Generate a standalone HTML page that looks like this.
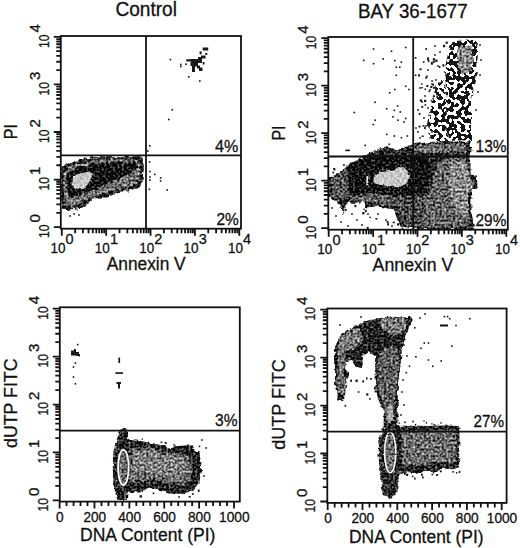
<!DOCTYPE html>
<html><head><meta charset="utf-8"><style>
html,body{margin:0;padding:0;background:#fff;width:520px;height:548px;overflow:hidden}
svg{display:block}
text{stroke:#111;stroke-width:0.3px}
</style></head><body>
<svg width="520" height="548" viewBox="0 0 520 548">
<rect width="520" height="548" fill="#fff"/>
<defs><filter id="tex" filterUnits="userSpaceOnUse" x="0" y="0" width="520" height="548" color-interpolation-filters="sRGB"><feTurbulence type="fractalNoise" baseFrequency="0.22" numOctaves="2" seed="4" result="dn"/><feDisplacementMap in="SourceGraphic" in2="dn" scale="5" xChannelSelector="R" yChannelSelector="G" result="ds"/><feTurbulence type="fractalNoise" baseFrequency="0.45" numOctaves="1" seed="11" result="nz"/><feColorMatrix in="nz" type="matrix" values="1 0 0 0 0  1 0 0 0 0  1 0 0 0 0  0 0 0 0 1" result="g"/><feComposite in="ds" in2="g" operator="arithmetic" k1="0" k2="1" k3="1.5" k4="-0.75" result="c"/><feComposite in="c" in2="ds" operator="in"/></filter><filter id="tex2" filterUnits="userSpaceOnUse" x="0" y="0" width="520" height="548" color-interpolation-filters="sRGB"><feTurbulence type="fractalNoise" baseFrequency="0.22" numOctaves="2" seed="9" result="dn"/><feDisplacementMap in="SourceGraphic" in2="dn" scale="4" xChannelSelector="R" yChannelSelector="G" result="ds"/><feTurbulence type="fractalNoise" baseFrequency="0.45" numOctaves="1" seed="3" result="nz"/><feColorMatrix in="nz" type="matrix" values="1 0 0 0 0  1 0 0 0 0  1 0 0 0 0  0 0 0 0 1" result="g"/><feComposite in="ds" in2="g" operator="arithmetic" k1="0" k2="1" k3="0.6" k4="-0.3" result="c"/><feComposite in="c" in2="ds" operator="in"/></filter><filter id="spk" filterUnits="userSpaceOnUse" x="0" y="0" width="520" height="548" color-interpolation-filters="sRGB"><feTurbulence type="fractalNoise" baseFrequency="0.2" numOctaves="2" seed="8" result="dn"/><feDisplacementMap in="SourceGraphic" in2="dn" scale="5" xChannelSelector="R" yChannelSelector="G" result="ds"/><feTurbulence type="fractalNoise" baseFrequency="0.26" numOctaves="1" seed="21" result="nz"/><feColorMatrix in="nz" type="matrix" values="1 0 0 0 0  1 0 0 0 0  1 0 0 0 0  0 0 0 0 1" result="g"/><feComposite in="ds" in2="g" operator="arithmetic" k1="0" k2="1" k3="2" k4="-1" result="c"/><feComponentTransfer in="c" result="t"><feFuncR type="discrete" tableValues="0.09 1"/><feFuncG type="discrete" tableValues="0.09 1"/><feFuncB type="discrete" tableValues="0.09 1"/></feComponentTransfer><feComposite in="t" in2="ds" operator="in"/></filter><filter id="tex3" filterUnits="userSpaceOnUse" x="0" y="0" width="520" height="548" color-interpolation-filters="sRGB"><feTurbulence type="fractalNoise" baseFrequency="0.3" numOctaves="1" seed="5" result="dn"/><feDisplacementMap in="SourceGraphic" in2="dn" scale="2" xChannelSelector="R" yChannelSelector="G"/></filter></defs>
<g font-family='"Liberation Sans", sans-serif' fill="#111" stroke-width="0.3">
<g filter="url(#spk)">
<path d="M452.0,41.0 L466.0,40.5 L476.0,41.0 L478.0,50.0 L477.0,70.0 L474.0,85.0 L471.0,100.0 L471.0,140.0 L448.0,141.0 L446.0,120.0 L447.0,100.0 L446.0,85.0 L445.0,67.0 L448.0,55.0 Z" fill="#747474"/>
<path d="M432.0,100.0 L446.0,95.0 L447.0,141.0 L430.0,141.0 L428.0,125.0 Z" fill="#848484"/>
<path d="M436.0,84.0 L445.0,80.0 L446.0,96.0 L433.0,100.0 Z" fill="#9a9a9a"/>
</g>
<g filter="url(#tex)">
<path d="M61.0,167.5 L67.5,163.8 L77.5,160.0 L90.0,157.5 L100.0,156.3 L120.0,156.3 L140.0,156.3 L142.5,157.5 L143.8,167.5 L142.5,180.0 L140.0,187.5 L135.0,188.8 L125.0,191.3 L115.0,193.8 L107.5,197.5 L100.0,197.5 L92.5,198.8 L87.5,203.8 L82.5,207.5 L75.0,208.8 L67.5,210.0 L61.0,210.0 Z" fill="#202020" />
<path d="M63.5,172.0 L70.0,167.0 L80.0,163.5 L92.0,160.5 L104.0,159.5 L124.0,159.5 L139.0,160.0 L140.5,168.0 L139.5,180.0 L133.0,185.5 L122.0,188.5 L110.0,191.5 L100.0,194.0 L90.0,196.0 L84.0,202.0 L76.0,205.5 L64.0,206.5 Z" fill="#747474" />
<path d="M66.5,176.0 L70.0,170.5 L80.0,166.5 L95.0,163.5 L115.0,162.5 L135.0,162.5 L138.0,167.0 L130.0,175.0 L115.0,181.0 L100.0,187.0 L90.0,193.0 L80.0,197.0 L70.0,197.0 L66.5,190.0 Z" fill="#0c0c0c" />
<path d="M69.0,199.0 L80.0,195.0 L95.0,189.0 L110.0,183.0 L125.0,176.0 L138.0,169.0 L139.0,177.0 L128.0,183.0 L112.0,189.0 L98.0,194.0 L86.0,200.0 L73.0,204.0 Z" fill="#747474" />
<path d="M328.5,178.0 L335.0,175.0 L342.0,171.0 L347.0,166.0 L351.0,162.0 L357.0,159.5 L362.6,157.3 L366.0,155.0 L369.5,153.0 L380.0,148.7 L388.6,147.0 L397.0,150.4 L405.9,146.0 L418.0,143.5 L430.0,142.0 L445.0,141.0 L460.0,142.0 L470.0,141.0 L471.5,150.0 L470.5,157.0 L470.5,174.6 L477.0,176.0 L477.5,188.4 L471.4,190.0 L471.4,212.7 L473.0,220.0 L474.0,229.0 L418.0,229.0 L400.7,226.5 L397.2,219.6 L393.7,209.2 L386.8,208.3 L378.2,206.6 L366.0,207.5 L364.3,200.6 L354.0,204.0 L347.0,202.3 L343.6,214.4 L340.0,205.7 L335.0,200.6 L328.5,197.0 Z" fill="#202020" />
<path d="M331.0,181.0 L338.0,175.0 L344.0,171.0 L349.0,169.0 L349.0,182.0 L349.0,195.0 L343.0,199.0 L335.0,199.0 L331.0,196.0 Z" fill="#585858" />
<path d="M350.0,196.0 L365.0,194.0 L380.0,194.0 L395.0,196.0 L405.0,200.0 L428.0,196.0 L432.0,180.0 L436.0,165.0 L445.0,158.0 L466.0,158.0 L468.0,180.0 L468.0,205.0 L469.0,227.0 L420.0,227.0 L402.0,222.0 L396.0,207.0 L380.0,204.0 L364.0,201.0 L350.0,200.0 Z" fill="#646464" />
<path d="M385.0,195.0 L405.0,196.0 L418.0,196.0 L425.0,205.0 L422.0,227.0 L404.0,225.0 L397.0,210.0 Z" fill="#4a4a4a" />
<path d="M452.0,162.0 L466.0,160.0 L470.0,176.0 L474.0,186.0 L468.0,192.0 L468.0,215.0 L460.0,218.0 L452.0,200.0 L448.0,180.0 Z" fill="#8c8c8c" />
<path d="M412.0,146.0 L430.0,144.0 L450.0,143.5 L466.0,144.0 L466.0,152.0 L440.0,153.0 L414.0,153.0 Z" fill="#6a6a6a" />
<path d="M348.0,166.0 L354.0,162.0 L362.0,159.0 L372.0,157.0 L390.0,157.0 L405.0,157.0 L420.0,157.0 L430.0,160.0 L430.0,172.0 L426.0,190.0 L418.0,195.0 L400.0,195.0 L380.0,193.0 L360.0,195.0 L350.0,196.0 L348.0,187.0 Z" fill="#0c0c0c" />
<path d="M457.0,47.0 L471.0,46.0 L473.0,58.0 L471.0,71.0 L463.0,74.0 L458.0,68.0 L457.0,56.0 Z" fill="#8a8a8a" />
<path d="M127.0,440.1 L131.7,440.1 L142.3,441.2 L152.9,443.3 L163.5,445.4 L167.7,447.5 L174.0,446.4 L184.6,445.4 L191.0,445.4 L194.1,449.6 L199.4,451.7 L201.5,464.4 L199.4,483.5 L193.1,490.9 L184.6,493.0 L174.0,494.0 L163.5,490.9 L152.9,487.7 L142.3,490.9 L131.7,492.0 L127.0,492.0 Z" fill="#202020" />
<path d="M130.0,448.0 L150.0,447.0 L166.0,452.0 L182.0,453.0 L191.0,459.0 L192.0,477.0 L184.0,485.0 L170.0,484.0 L155.0,480.0 L140.0,481.0 L130.0,483.0 Z" fill="#6a6a6a" />
<path d="M133.0,453.0 L150.0,452.0 L166.0,456.0 L180.0,458.0 L186.0,463.0 L185.0,474.0 L172.0,477.0 L160.0,474.0 L145.0,471.0 L133.0,472.0 Z" fill="#808080" />
<path d="M118.0,436.0 L119.6,432.0 L124.0,428.5 L128.4,432.0 L130.0,445.0 L130.5,470.0 L129.5,483.4 L127.5,492.0 L126.9,500.0 L117.4,500.0 L115.0,492.0 L113.5,483.4 L112.8,470.0 L113.0,454.0 L115.0,445.0 Z" fill="#262626" />
<ellipse cx="123.4" cy="467.5" rx="4" ry="16" fill="#6a6a6a"/>
<path d="M335.0,347.5 L336.9,342.0 L339.6,336.6 L343.3,333.0 L348.8,329.3 L356.0,325.6 L361.6,322.0 L370.7,320.1 L383.5,317.4 L390.8,316.5 L401.8,317.4 L411.0,316.5 L411.8,320.0 L409.0,327.4 L405.4,336.6 L401.8,351.2 L400.0,369.5 L398.0,382.3 L398.0,400.0 L397.5,426.0 L383.7,426.0 L383.7,410.0 L378.0,400.0 L375.5,385.0 L375.5,372.0 L375.0,356.0 L369.0,352.0 L363.0,355.0 L362.0,368.0 L356.0,367.0 L352.0,361.0 L346.0,362.0 L345.0,368.0 L349.0,375.0 L346.0,384.0 L345.3,392.0 L344.0,400.0 L338.0,400.0 L337.0,390.0 L335.0,384.0 L335.0,373.0 L335.0,360.0 Z" fill="#202020" />
<path d="M339.0,338.0 L348.0,331.0 L360.0,327.0 L363.0,340.0 L355.0,348.0 L345.0,352.0 L338.0,352.0 Z" fill="#7a7a7a" />
<path d="M380.0,319.0 L400.0,318.0 L408.0,320.0 L404.0,332.0 L395.0,335.0 L382.0,330.0 Z" fill="#7a7a7a" />
<path d="M380.0,352.0 L392.0,345.0 L399.0,350.0 L398.0,378.0 L395.0,395.0 L394.0,420.0 L386.0,420.0 L384.0,405.0 L378.0,392.0 L377.0,365.0 Z" fill="#5e5e5e" />
<path d="M337.0,352.0 L344.0,350.0 L346.0,362.0 L343.0,372.0 L346.0,384.0 L343.0,395.0 L338.0,394.0 L337.0,375.0 Z" fill="#6e6e6e" />
<path d="M382.7,429.8 L379.5,438.2 L378.5,452.9 L379.5,473.9 L381.6,482.2 L382.7,494.8 L387.9,498.0 L394.2,497.0 L397.3,488.5 L398.4,478.0 L399.4,463.4 L399.4,432.0 L397.0,425.0 L385.0,425.0 Z" fill="#2a2a2a" />
<ellipse cx="390.2" cy="452.4" rx="4.6" ry="19" fill="#6a6a6a"/>
<path d="M397.3,426.0 L410.0,425.6 L430.0,426.0 L445.0,425.6 L459.2,426.0 L459.5,440.0 L459.2,455.0 L459.2,467.0 L452.0,470.0 L444.0,468.0 L435.0,472.0 L425.0,470.0 L418.0,475.0 L410.0,472.0 L399.4,474.0 Z" fill="#202020" />
<path d="M401.0,431.0 L420.0,431.0 L440.0,430.0 L456.0,431.0 L456.0,448.0 L455.0,462.0 L440.0,463.0 L420.0,465.0 L402.0,466.0 Z" fill="#6c6c6c" />
</g>
<g filter="url(#tex2)">
<path d="M72.5,177.5 L77.5,173.8 L90.0,171.3 L92.5,175.0 L90.0,182.5 L85.0,187.5 L77.5,190.0 L72.5,187.5 Z" fill="#c8c8c8"/>
<path d="M373.4,174.7 L379.8,172.0 L394.5,170.2 L401.8,165.6 L407.3,170.2 L410.9,176.6 L405.4,183.9 L398.0,187.5 L385.3,185.7 L378.0,184.8 L373.4,183.0 Z" fill="#c8c8c8"/>
<path d="M366.2,175.0 L368.6,175.0 L368.6,185.5 L366.2,185.5 Z" fill="#f0f0f0"/>
<ellipse cx="389.8" cy="413" rx="3.6" ry="10" fill="#a8a8a8"/>
</g>
<g filter="url(#tex3)">
<ellipse cx="123.4" cy="467.5" rx="5.3" ry="17.5" fill="none" stroke="#f4f4f4" stroke-width="1.9"/>
<ellipse cx="390.2" cy="452.4" rx="5.6" ry="20.2" fill="none" stroke="#f4f4f4" stroke-width="1.7"/>
</g>
<rect x="171.5" y="109.0" width="1.6" height="1.6" fill="#111"/>
<rect x="168.0" y="118.7" width="1.6" height="1.6" fill="#111"/>
<rect x="149.0" y="145.0" width="1.6" height="1.6" fill="#111"/>
<rect x="148.8" y="161.2" width="1.6" height="1.6" fill="#111"/>
<rect x="147.1" y="150.2" width="1.6" height="1.6" fill="#111"/>
<rect x="149.1" y="170.7" width="1.6" height="1.6" fill="#111"/>
<rect x="149.1" y="176.2" width="1.6" height="1.6" fill="#111"/>
<rect x="149.1" y="179.2" width="1.6" height="1.6" fill="#111"/>
<rect x="153.9" y="173.6" width="1.6" height="1.6" fill="#111"/>
<rect x="159.8" y="177.2" width="1.6" height="1.6" fill="#111"/>
<rect x="159.8" y="180.2" width="1.6" height="1.6" fill="#111"/>
<rect x="148.5" y="188.5" width="1.6" height="1.6" fill="#111"/>
<rect x="166.4" y="189.2" width="1.6" height="1.6" fill="#111"/>
<rect x="169.6" y="58.8" width="1.6" height="1.6" fill="#111"/>
<rect x="180.0" y="63.7" width="1.6" height="1.6" fill="#111"/>
<rect x="180.0" y="65.7" width="1.6" height="1.6" fill="#111"/>
<rect x="185.2" y="63.4" width="1.6" height="1.6" fill="#111"/>
<rect x="188.0" y="76.1" width="1.6" height="1.6" fill="#111"/>
<rect x="199.0" y="80.2" width="1.6" height="1.6" fill="#111"/>
<rect x="199.6" y="51.9" width="1.6" height="1.6" fill="#111"/>
<rect x="205.3" y="53.0" width="1.6" height="1.6" fill="#111"/>
<rect x="202.5" y="56.5" width="1.6" height="1.6" fill="#111"/>
<rect x="73.2" y="213.2" width="1.6" height="1.6" fill="#111"/>
<rect x="78.2" y="214.2" width="1.6" height="1.6" fill="#111"/>
<rect x="69.2" y="215.2" width="1.6" height="1.6" fill="#111"/>
<rect x="186.4" y="59.3" width="6.0" height="1.8" fill="#111"/>
<rect x="191" y="59" width="7" height="6" fill="#1a1a1a"/>
<rect x="192" y="65" width="3" height="7" fill="#1a1a1a"/>
<rect x="195" y="63.5" width="3" height="3" fill="#1a1a1a"/>
<rect x="197" y="65.5" width="3" height="3" fill="#1a1a1a"/>
<rect x="199" y="67.5" width="3.5" height="3.5" fill="#1a1a1a"/>
<rect x="198" y="57" width="4" height="6" fill="#1a1a1a"/>
<rect x="201" y="55.5" width="4.5" height="3" fill="#1a1a1a"/>
<rect x="202.7" y="47.5" width="5.5" height="3" fill="#1a1a1a"/>
<rect x="199.8" y="51.5" width="1.8" height="2.8" fill="#1a1a1a"/>
<rect x="205.6" y="53.3" width="1.8" height="1.5" fill="#1a1a1a"/>
<rect x="186.5" y="59.8" width="5" height="1.6" fill="#1a1a1a"/>
<rect x="202.7" y="62" width="1.8" height="2.5" fill="#1a1a1a"/>
<rect x="190.5" y="62" width="1.5" height="4" fill="#1a1a1a"/>
<rect x="372.7" y="48.2" width="1.6" height="1.6" fill="#111"/>
<rect x="390.7" y="50.4" width="1.6" height="1.6" fill="#111"/>
<rect x="404.9" y="46.7" width="1.6" height="1.6" fill="#111"/>
<rect x="362.9" y="59.6" width="1.6" height="1.6" fill="#111"/>
<rect x="372.7" y="62.9" width="1.6" height="1.6" fill="#111"/>
<rect x="382.4" y="58.1" width="1.6" height="1.6" fill="#111"/>
<rect x="394.0" y="59.8" width="1.6" height="1.6" fill="#111"/>
<rect x="400.6" y="61.4" width="1.6" height="1.6" fill="#111"/>
<rect x="395.5" y="66.4" width="1.6" height="1.6" fill="#111"/>
<rect x="399.0" y="66.4" width="1.6" height="1.6" fill="#111"/>
<rect x="395.5" y="74.5" width="1.6" height="1.6" fill="#111"/>
<rect x="404.9" y="85.5" width="1.6" height="1.6" fill="#111"/>
<rect x="408.2" y="88.7" width="1.6" height="1.6" fill="#111"/>
<rect x="394.0" y="88.7" width="1.6" height="1.6" fill="#111"/>
<rect x="388.9" y="92.0" width="1.6" height="1.6" fill="#111"/>
<rect x="374.3" y="101.5" width="1.6" height="1.6" fill="#111"/>
<rect x="396.8" y="105.2" width="1.6" height="1.6" fill="#111"/>
<rect x="385.9" y="108.0" width="1.6" height="1.6" fill="#111"/>
<rect x="393.5" y="109.6" width="1.6" height="1.6" fill="#111"/>
<rect x="399.5" y="111.2" width="1.6" height="1.6" fill="#111"/>
<rect x="353.5" y="111.7" width="1.6" height="1.6" fill="#111"/>
<rect x="392.2" y="116.1" width="1.6" height="1.6" fill="#111"/>
<rect x="374.3" y="119.4" width="1.6" height="1.6" fill="#111"/>
<rect x="397.2" y="119.4" width="1.6" height="1.6" fill="#111"/>
<rect x="404.9" y="117.7" width="1.6" height="1.6" fill="#111"/>
<rect x="372.5" y="123.8" width="1.6" height="1.6" fill="#111"/>
<rect x="403.2" y="121.2" width="1.6" height="1.6" fill="#111"/>
<rect x="385.9" y="133.6" width="1.6" height="1.6" fill="#111"/>
<rect x="393.5" y="135.2" width="1.6" height="1.6" fill="#111"/>
<rect x="400.6" y="136.9" width="1.6" height="1.6" fill="#111"/>
<rect x="406.5" y="135.2" width="1.6" height="1.6" fill="#111"/>
<rect x="364.4" y="144.6" width="1.6" height="1.6" fill="#111"/>
<rect x="388.5" y="143.5" width="1.6" height="1.6" fill="#111"/>
<rect x="414.8" y="57.0" width="1.6" height="1.6" fill="#111"/>
<rect x="414.8" y="74.5" width="1.6" height="1.6" fill="#111"/>
<rect x="422.9" y="61.2" width="1.6" height="1.6" fill="#111"/>
<rect x="427.2" y="69.2" width="1.6" height="1.6" fill="#111"/>
<rect x="434.2" y="54.2" width="1.6" height="1.6" fill="#111"/>
<rect x="437.2" y="65.2" width="1.6" height="1.6" fill="#111"/>
<rect x="419.2" y="87.2" width="1.6" height="1.6" fill="#111"/>
<rect x="424.2" y="95.2" width="1.6" height="1.6" fill="#111"/>
<rect x="431.2" y="83.2" width="1.6" height="1.6" fill="#111"/>
<rect x="417.2" y="109.2" width="1.6" height="1.6" fill="#111"/>
<rect x="423.2" y="117.2" width="1.6" height="1.6" fill="#111"/>
<rect x="415.2" y="127.2" width="1.6" height="1.6" fill="#111"/>
<rect x="419.2" y="137.2" width="1.6" height="1.6" fill="#111"/>
<rect x="434.2" y="45.2" width="1.6" height="1.6" fill="#111"/>
<rect x="439.2" y="51.2" width="1.6" height="1.6" fill="#111"/>
<rect x="427.2" y="57.2" width="1.6" height="1.6" fill="#111"/>
<rect x="431.2" y="63.2" width="1.6" height="1.6" fill="#111"/>
<rect x="425.2" y="77.2" width="1.6" height="1.6" fill="#111"/>
<rect x="435.2" y="79.2" width="1.6" height="1.6" fill="#111"/>
<rect x="429.2" y="89.2" width="1.6" height="1.6" fill="#111"/>
<rect x="433.2" y="95.2" width="1.6" height="1.6" fill="#111"/>
<rect x="421.2" y="101.2" width="1.6" height="1.6" fill="#111"/>
<rect x="427.2" y="107.2" width="1.6" height="1.6" fill="#111"/>
<rect x="435.2" y="111.2" width="1.6" height="1.6" fill="#111"/>
<rect x="425.2" y="125.2" width="1.6" height="1.6" fill="#111"/>
<rect x="431.2" y="131.2" width="1.6" height="1.6" fill="#111"/>
<rect x="417.2" y="131.2" width="1.6" height="1.6" fill="#111"/>
<rect x="479.2" y="44.2" width="1.6" height="1.6" fill="#111"/>
<rect x="480.2" y="59.2" width="1.6" height="1.6" fill="#111"/>
<rect x="479.2" y="74.2" width="1.6" height="1.6" fill="#111"/>
<rect x="477.2" y="91.2" width="1.6" height="1.6" fill="#111"/>
<rect x="475.2" y="109.2" width="1.6" height="1.6" fill="#111"/>
<rect x="345.4" y="149.6" width="4.5" height="1.6" fill="#111"/>
<rect x="418.4" y="125.7" width="2.2" height="1.7" fill="#161616"/>
<rect x="430.3" y="85.9" width="2.1" height="2.2" fill="#161616"/>
<rect x="421.5" y="135.5" width="2.3" height="1.4" fill="#161616"/>
<rect x="421.1" y="83.2" width="1.4" height="1.6" fill="#161616"/>
<rect x="428.5" y="90.6" width="1.6" height="1.6" fill="#161616"/>
<rect x="421.2" y="87.0" width="1.7" height="1.4" fill="#161616"/>
<rect x="435.2" y="59.6" width="2.4" height="2.3" fill="#161616"/>
<rect x="418.0" y="74.3" width="2.1" height="2.1" fill="#161616"/>
<rect x="424.0" y="99.8" width="2.3" height="2.2" fill="#161616"/>
<rect x="430.7" y="99.9" width="1.4" height="1.6" fill="#161616"/>
<rect x="440.3" y="82.4" width="1.6" height="1.9" fill="#161616"/>
<rect x="426.4" y="84.9" width="1.9" height="2.2" fill="#161616"/>
<rect x="431.2" y="80.3" width="1.9" height="1.4" fill="#161616"/>
<rect x="427.0" y="58.0" width="1.9" height="2.4" fill="#161616"/>
<rect x="442.4" y="64.2" width="1.9" height="2.4" fill="#161616"/>
<rect x="433.1" y="86.9" width="1.7" height="1.9" fill="#161616"/>
<rect x="445.6" y="41.6" width="2.2" height="2.2" fill="#161616"/>
<rect x="432.5" y="83.6" width="1.5" height="2.3" fill="#161616"/>
<rect x="432.8" y="61.0" width="1.9" height="1.9" fill="#161616"/>
<rect x="425.8" y="75.6" width="1.9" height="2.0" fill="#161616"/>
<rect x="434.2" y="86.8" width="1.4" height="1.6" fill="#161616"/>
<rect x="419.8" y="99.4" width="2.3" height="2.2" fill="#161616"/>
<rect x="422.4" y="125.2" width="2.1" height="1.5" fill="#161616"/>
<rect x="438.9" y="66.0" width="1.5" height="2.0" fill="#161616"/>
<rect x="425.4" y="48.0" width="1.6" height="1.9" fill="#161616"/>
<rect x="419.5" y="68.3" width="2.1" height="1.9" fill="#161616"/>
<rect x="424.6" y="88.4" width="1.4" height="1.8" fill="#161616"/>
<rect x="427.9" y="59.8" width="1.5" height="2.3" fill="#161616"/>
<rect x="430.8" y="61.9" width="2.0" height="2.2" fill="#161616"/>
<rect x="418.8" y="112.9" width="1.6" height="2.1" fill="#161616"/>
<rect x="436.4" y="95.5" width="1.6" height="2.4" fill="#161616"/>
<rect x="421.4" y="105.9" width="1.8" height="2.0" fill="#161616"/>
<rect x="424.6" y="104.1" width="1.5" height="1.7" fill="#161616"/>
<rect x="424.1" y="126.9" width="1.7" height="2.3" fill="#161616"/>
<rect x="438.5" y="82.6" width="1.7" height="1.4" fill="#161616"/>
<rect x="443.0" y="44.8" width="2.2" height="2.4" fill="#161616"/>
<rect x="432.8" y="58.2" width="2.3" height="2.4" fill="#161616"/>
<rect x="437.2" y="91.9" width="1.8" height="1.7" fill="#161616"/>
<rect x="401.7" y="227.5" width="1.5" height="1.5" fill="#161616"/>
<rect x="392.7" y="221.6" width="2.1" height="1.7" fill="#161616"/>
<rect x="375.4" y="218.0" width="2.0" height="1.6" fill="#161616"/>
<rect x="362.3" y="212.0" width="2.1" height="2.4" fill="#161616"/>
<rect x="363.4" y="208.5" width="1.4" height="1.4" fill="#161616"/>
<rect x="364.9" y="209.9" width="1.8" height="2.3" fill="#161616"/>
<rect x="369.4" y="216.7" width="1.6" height="1.4" fill="#161616"/>
<rect x="354.4" y="204.8" width="1.9" height="2.4" fill="#161616"/>
<rect x="397.0" y="223.3" width="2.1" height="2.3" fill="#161616"/>
<rect x="387.2" y="223.1" width="1.8" height="2.4" fill="#161616"/>
<rect x="386.6" y="221.0" width="1.9" height="1.9" fill="#161616"/>
<rect x="366.8" y="226.9" width="1.9" height="2.2" fill="#161616"/>
<rect x="340.0" y="171.2" width="2.1" height="1.5" fill="#161616"/>
<rect x="336.2" y="173.3" width="2.1" height="2.0" fill="#161616"/>
<rect x="333.8" y="168.2" width="1.6" height="2.3" fill="#161616"/>
<rect x="332.4" y="171.6" width="1.7" height="1.8" fill="#161616"/>
<rect x="333.1" y="167.9" width="1.5" height="1.7" fill="#161616"/>
<rect x="342.8" y="164.3" width="2.1" height="1.5" fill="#161616"/>
<rect x="335.2" y="215.2" width="1.6" height="1.6" fill="#111"/>
<rect x="340.2" y="221.2" width="1.6" height="1.6" fill="#111"/>
<rect x="351.2" y="213.2" width="1.6" height="1.6" fill="#111"/>
<rect x="356.2" y="219.2" width="1.6" height="1.6" fill="#111"/>
<rect x="367.2" y="213.2" width="1.6" height="1.6" fill="#111"/>
<rect x="377.2" y="213.2" width="1.6" height="1.6" fill="#111"/>
<rect x="385.2" y="219.2" width="1.6" height="1.6" fill="#111"/>
<rect x="391.2" y="225.2" width="1.6" height="1.6" fill="#111"/>
<rect x="347.2" y="225.2" width="1.6" height="1.6" fill="#111"/>
<rect x="361.2" y="224.2" width="1.6" height="1.6" fill="#111"/>
<rect x="331.2" y="207.2" width="1.6" height="1.6" fill="#111"/>
<rect x="345.2" y="209.2" width="1.6" height="1.6" fill="#111"/>
<rect x="76.9" y="343.8" width="1.6" height="1.6" fill="#111"/>
<rect x="74.6" y="362.2" width="1.6" height="1.6" fill="#111"/>
<rect x="72.7" y="366.2" width="1.6" height="1.6" fill="#111"/>
<rect x="72.7" y="376.2" width="1.6" height="1.6" fill="#111"/>
<rect x="74.6" y="383.0" width="1.6" height="1.6" fill="#111"/>
<rect x="201.2" y="439.2" width="1.6" height="1.6" fill="#111"/>
<rect x="205.2" y="447.2" width="1.6" height="1.6" fill="#111"/>
<rect x="203.2" y="475.2" width="1.6" height="1.6" fill="#111"/>
<rect x="178.2" y="496.2" width="1.6" height="1.6" fill="#111"/>
<rect x="71" y="350.5" width="5" height="5" fill="#1a1a1a"/>
<rect x="76" y="352" width="3" height="4" fill="#1a1a1a"/>
<rect x="74" y="349" width="2" height="2" fill="#1a1a1a"/>
<rect x="78.5" y="354" width="1.5" height="2.5" fill="#1a1a1a"/>
<rect x="118.4" y="357.5" width="1.7" height="5.5" fill="#1a1a1a"/>
<rect x="115.4" y="372.2" width="7.6" height="1.7" fill="#1a1a1a"/>
<rect x="116.5" y="382" width="4.5" height="2" fill="#1a1a1a"/>
<rect x="118" y="383.5" width="2" height="5" fill="#1a1a1a"/>
<rect x="443.6" y="315.8" width="1.6" height="1.6" fill="#111"/>
<rect x="446.8" y="315.8" width="1.6" height="1.6" fill="#111"/>
<rect x="448.9" y="317.9" width="1.6" height="1.6" fill="#111"/>
<rect x="469.0" y="317.9" width="1.6" height="1.6" fill="#111"/>
<rect x="455.2" y="324.7" width="1.6" height="1.6" fill="#111"/>
<rect x="414.0" y="327.0" width="1.6" height="1.6" fill="#111"/>
<rect x="423.5" y="342.2" width="1.6" height="1.6" fill="#111"/>
<rect x="427.7" y="342.2" width="1.6" height="1.6" fill="#111"/>
<rect x="420.2" y="347.5" width="1.6" height="1.6" fill="#111"/>
<rect x="451.0" y="345.4" width="1.6" height="1.6" fill="#111"/>
<rect x="415.1" y="356.0" width="1.6" height="1.6" fill="#111"/>
<rect x="427.7" y="359.2" width="1.6" height="1.6" fill="#111"/>
<rect x="440.4" y="360.2" width="1.6" height="1.6" fill="#111"/>
<rect x="432.0" y="365.5" width="1.6" height="1.6" fill="#111"/>
<rect x="408.7" y="365.5" width="1.6" height="1.6" fill="#111"/>
<rect x="405.5" y="371.9" width="1.6" height="1.6" fill="#111"/>
<rect x="419.2" y="317.2" width="1.6" height="1.6" fill="#111"/>
<rect x="424.2" y="313.2" width="1.6" height="1.6" fill="#111"/>
<rect x="360.2" y="316.2" width="1.6" height="1.6" fill="#111"/>
<rect x="339.2" y="324.2" width="1.6" height="1.6" fill="#111"/>
<rect x="357.8" y="391.2" width="1.6" height="1.6" fill="#111"/>
<rect x="403.2" y="344.2" width="1.6" height="1.6" fill="#111"/>
<rect x="406.2" y="355.2" width="1.6" height="1.6" fill="#111"/>
<rect x="402.2" y="379.2" width="1.6" height="1.6" fill="#111"/>
<rect x="401.2" y="391.2" width="1.6" height="1.6" fill="#111"/>
<rect x="403.2" y="404.2" width="1.6" height="1.6" fill="#111"/>
<rect x="400.2" y="414.2" width="1.6" height="1.6" fill="#111"/>
<rect x="440.0" y="324.5" width="8.0" height="2.0" fill="#111"/>
<rect x="366.2" y="393.3" width="2.2" height="2.3" fill="#161616"/>
<rect x="369.2" y="398.0" width="1.4" height="1.9" fill="#161616"/>
<rect x="374.5" y="390.9" width="2.3" height="1.5" fill="#161616"/>
<rect x="362.2" y="380.4" width="1.9" height="2.0" fill="#161616"/>
<rect x="350.3" y="379.6" width="1.7" height="2.3" fill="#161616"/>
<rect x="369.9" y="378.1" width="2.2" height="1.5" fill="#161616"/>
<rect x="366.1" y="377.3" width="1.4" height="2.3" fill="#161616"/>
<rect x="355.4" y="379.6" width="2.4" height="2.3" fill="#161616"/>
<rect x="414.1" y="477.5" width="1.5" height="2.1" fill="#161616"/>
<rect x="405.3" y="467.5" width="2.4" height="1.6" fill="#161616"/>
<rect x="439.8" y="470.4" width="1.9" height="1.9" fill="#161616"/>
<rect x="411.9" y="475.6" width="1.5" height="1.6" fill="#161616"/>
<rect x="401.2" y="467.7" width="1.8" height="2.3" fill="#161616"/>
<rect x="423.5" y="465.6" width="1.7" height="2.4" fill="#161616"/>
<rect x="403.9" y="472.7" width="1.8" height="2.1" fill="#161616"/>
<rect x="421.0" y="473.7" width="1.9" height="2.0" fill="#161616"/>
<rect x="455.9" y="472.1" width="1.5" height="1.5" fill="#161616"/>
<rect x="458.7" y="470.8" width="1.6" height="2.3" fill="#161616"/>
<rect x="435.9" y="474.2" width="2.3" height="1.7" fill="#161616"/>
<rect x="422.1" y="476.3" width="1.5" height="2.2" fill="#161616"/>
<rect x="406.1" y="473.7" width="2.1" height="2.3" fill="#161616"/>
<rect x="452.3" y="471.1" width="1.6" height="1.6" fill="#161616"/>
<rect x="432.8" y="471.1" width="1.5" height="2.3" fill="#161616"/>
<rect x="431.5" y="473.8" width="1.6" height="1.6" fill="#161616"/>
<rect x="425.8" y="421.9" width="1.3" height="1.7" fill="#161616"/>
<rect x="398.4" y="422.5" width="1.7" height="1.2" fill="#161616"/>
<rect x="431.3" y="423.1" width="1.2" height="1.4" fill="#161616"/>
<rect x="440.2" y="422.3" width="1.6" height="1.3" fill="#161616"/>
<rect x="412.3" y="420.6" width="1.5" height="1.8" fill="#161616"/>
<rect x="433.4" y="423.9" width="1.4" height="1.6" fill="#161616"/>
<rect x="404.1" y="421.5" width="1.6" height="1.6" fill="#161616"/>
<rect x="423.3" y="420.4" width="1.4" height="1.3" fill="#161616"/>
<rect x="414.9" y="424.0" width="1.3" height="1.7" fill="#161616"/>
<rect x="171.1" y="491.1" width="2.0" height="1.6" fill="#161616"/>
<rect x="188.6" y="495.9" width="2.1" height="1.6" fill="#161616"/>
<rect x="167.5" y="489.9" width="1.6" height="2.4" fill="#161616"/>
<rect x="191.9" y="493.2" width="1.8" height="1.7" fill="#161616"/>
<rect x="178.6" y="491.5" width="2.1" height="2.1" fill="#161616"/>
<rect x="139.6" y="495.2" width="2.4" height="2.4" fill="#161616"/>
<rect x="197.8" y="489.6" width="1.8" height="2.3" fill="#161616"/>
<rect x="152.6" y="492.6" width="1.8" height="1.5" fill="#161616"/>
<rect x="160.6" y="441.6" width="1.8" height="1.5" fill="#161616"/>
<rect x="164.6" y="441.9" width="1.3" height="1.5" fill="#161616"/>
<rect x="173.4" y="443.9" width="1.3" height="1.4" fill="#161616"/>
<rect x="198.7" y="445.6" width="1.6" height="1.6" fill="#161616"/>
<rect x="141.7" y="438.4" width="1.2" height="1.5" fill="#161616"/>
<rect x="165.4" y="442.4" width="1.5" height="1.6" fill="#161616"/>
<rect x="341.2" y="399.6" width="2.1" height="1.5" fill="#161616"/>
<rect x="344.6" y="404.8" width="1.5" height="1.9" fill="#161616"/>
<rect x="337.1" y="398.2" width="1.8" height="2.2" fill="#161616"/>
<rect x="60.8" y="36.0" width="180.20" height="192.70" fill="none" stroke="#111" stroke-width="1.8"/>
<rect x="328.3" y="37.0" width="179.50" height="192.70" fill="none" stroke="#111" stroke-width="1.8"/>
<rect x="59.8" y="307.3" width="180.00" height="194.30" fill="none" stroke="#111" stroke-width="1.8"/>
<rect x="327.3" y="308.5" width="179.30" height="194.40" fill="none" stroke="#111" stroke-width="1.8"/>
<path d="M146,36.0V228.7 M60.8,155.4H241.0 M413.2,37.0V229.7 M328.3,156.5H507.8 M59.8,430.7H239.8 M327.3,431.7H506.6" stroke="#111" stroke-width="1.8" fill="none"/>
<path d="M53.8,227.10H60.8 M56.3,212.79H60.8 M56.3,204.41H60.8 M56.3,198.47H60.8 M56.3,193.86H60.8 M56.3,190.10H60.8 M56.3,186.92H60.8 M56.3,184.16H60.8 M56.3,181.73H60.8 M53.8,179.55H60.8 M56.3,165.24H60.8 M56.3,156.86H60.8 M56.3,150.92H60.8 M56.3,146.31H60.8 M56.3,142.55H60.8 M56.3,139.37H60.8 M56.3,136.61H60.8 M56.3,134.18H60.8 M53.8,132.00H60.8 M56.3,117.69H60.8 M56.3,109.31H60.8 M56.3,103.37H60.8 M56.3,98.76H60.8 M56.3,95.00H60.8 M56.3,91.82H60.8 M56.3,89.06H60.8 M56.3,86.63H60.8 M53.8,84.45H60.8 M56.3,70.14H60.8 M56.3,61.76H60.8 M56.3,55.82H60.8 M56.3,51.21H60.8 M56.3,47.45H60.8 M56.3,44.27H60.8 M56.3,41.51H60.8 M56.3,39.08H60.8 M53.8,36.90H60.8" stroke="#111" stroke-width="1.8" fill="none"/>
<text transform="translate(48.70,238.10) rotate(-90)" font-size="15.5" textLength="13.5" lengthAdjust="spacingAndGlyphs">10</text>
<text transform="translate(40.30,222.60) rotate(-90)" font-size="15">0</text>
<text transform="translate(48.70,190.55) rotate(-90)" font-size="15.5" textLength="13.5" lengthAdjust="spacingAndGlyphs">10</text>
<text transform="translate(40.30,175.05) rotate(-90)" font-size="15">1</text>
<text transform="translate(48.70,143.00) rotate(-90)" font-size="15.5" textLength="13.5" lengthAdjust="spacingAndGlyphs">10</text>
<text transform="translate(40.30,127.50) rotate(-90)" font-size="15">2</text>
<text transform="translate(48.70,95.45) rotate(-90)" font-size="15.5" textLength="13.5" lengthAdjust="spacingAndGlyphs">10</text>
<text transform="translate(40.30,79.95) rotate(-90)" font-size="15">3</text>
<text transform="translate(48.70,47.90) rotate(-90)" font-size="15.5" textLength="13.5" lengthAdjust="spacingAndGlyphs">10</text>
<text transform="translate(40.30,32.40) rotate(-90)" font-size="15">4</text>
<path d="M61.80,228.7V235.7 M75.16,228.7V233.2 M82.97,228.7V233.2 M88.52,228.7V233.2 M92.82,228.7V233.2 M96.33,228.7V233.2 M99.30,228.7V233.2 M101.87,228.7V233.2 M104.14,228.7V233.2 M106.17,228.7V235.7 M119.53,228.7V233.2 M127.35,228.7V233.2 M132.89,228.7V233.2 M137.19,228.7V233.2 M140.71,228.7V233.2 M143.68,228.7V233.2 M146.25,228.7V233.2 M148.52,228.7V233.2 M150.55,228.7V235.7 M163.91,228.7V233.2 M171.72,228.7V233.2 M177.27,228.7V233.2 M181.57,228.7V233.2 M185.08,228.7V233.2 M188.05,228.7V233.2 M190.62,228.7V233.2 M192.89,228.7V233.2 M194.93,228.7V235.7 M208.28,228.7V233.2 M216.10,228.7V233.2 M221.64,228.7V233.2 M225.94,228.7V233.2 M229.46,228.7V233.2 M232.43,228.7V233.2 M235.00,228.7V233.2 M237.27,228.7V233.2 M239.30,228.7V235.7" stroke="#111" stroke-width="1.8" fill="none"/>
<text x="65.40" y="252.50" text-anchor="end" font-size="15.5" textLength="15" lengthAdjust="spacingAndGlyphs">10</text>
<text x="65.60" y="244.10" font-size="14.5">0</text>
<text x="109.77" y="252.50" text-anchor="end" font-size="15.5" textLength="15" lengthAdjust="spacingAndGlyphs">10</text>
<text x="109.97" y="244.10" font-size="14.5">1</text>
<text x="154.15" y="252.50" text-anchor="end" font-size="15.5" textLength="15" lengthAdjust="spacingAndGlyphs">10</text>
<text x="154.35" y="244.10" font-size="14.5">2</text>
<text x="198.53" y="252.50" text-anchor="end" font-size="15.5" textLength="15" lengthAdjust="spacingAndGlyphs">10</text>
<text x="198.73" y="244.10" font-size="14.5">3</text>
<text x="242.90" y="252.50" text-anchor="end" font-size="15.5" textLength="15" lengthAdjust="spacingAndGlyphs">10</text>
<text x="243.10" y="244.10" font-size="14.5">4</text>
<path d="M321.3,228.20H328.3 M323.8,213.90H328.3 M323.8,205.54H328.3 M323.8,199.60H328.3 M323.8,195.00H328.3 M323.8,191.24H328.3 M323.8,188.06H328.3 M323.8,185.30H328.3 M323.8,182.87H328.3 M321.3,180.70H328.3 M323.8,166.40H328.3 M323.8,158.04H328.3 M323.8,152.10H328.3 M323.8,147.50H328.3 M323.8,143.74H328.3 M323.8,140.56H328.3 M323.8,137.80H328.3 M323.8,135.37H328.3 M321.3,133.20H328.3 M323.8,118.90H328.3 M323.8,110.54H328.3 M323.8,104.60H328.3 M323.8,100.00H328.3 M323.8,96.24H328.3 M323.8,93.06H328.3 M323.8,90.30H328.3 M323.8,87.87H328.3 M321.3,85.70H328.3 M323.8,71.40H328.3 M323.8,63.04H328.3 M323.8,57.10H328.3 M323.8,52.50H328.3 M323.8,48.74H328.3 M323.8,45.56H328.3 M323.8,42.80H328.3 M323.8,40.37H328.3 M321.3,38.20H328.3" stroke="#111" stroke-width="1.8" fill="none"/>
<text transform="translate(316.20,239.20) rotate(-90)" font-size="15.5" textLength="13.5" lengthAdjust="spacingAndGlyphs">10</text>
<text transform="translate(307.80,223.70) rotate(-90)" font-size="15">0</text>
<text transform="translate(316.20,191.70) rotate(-90)" font-size="15.5" textLength="13.5" lengthAdjust="spacingAndGlyphs">10</text>
<text transform="translate(307.80,176.20) rotate(-90)" font-size="15">1</text>
<text transform="translate(316.20,144.20) rotate(-90)" font-size="15.5" textLength="13.5" lengthAdjust="spacingAndGlyphs">10</text>
<text transform="translate(307.80,128.70) rotate(-90)" font-size="15">2</text>
<text transform="translate(316.20,96.70) rotate(-90)" font-size="15.5" textLength="13.5" lengthAdjust="spacingAndGlyphs">10</text>
<text transform="translate(307.80,81.20) rotate(-90)" font-size="15">3</text>
<text transform="translate(316.20,49.20) rotate(-90)" font-size="15.5" textLength="13.5" lengthAdjust="spacingAndGlyphs">10</text>
<text transform="translate(307.80,33.70) rotate(-90)" font-size="15">4</text>
<path d="M328.70,229.7V236.7 M342.07,229.7V234.2 M349.88,229.7V234.2 M355.43,229.7V234.2 M359.73,229.7V234.2 M363.25,229.7V234.2 M366.22,229.7V234.2 M368.80,229.7V234.2 M371.07,229.7V234.2 M373.10,229.7V236.7 M386.47,229.7V234.2 M394.28,229.7V234.2 M399.83,229.7V234.2 M404.13,229.7V234.2 M407.65,229.7V234.2 M410.62,229.7V234.2 M413.20,229.7V234.2 M415.47,229.7V234.2 M417.50,229.7V236.7 M430.87,229.7V234.2 M438.68,229.7V234.2 M444.23,229.7V234.2 M448.53,229.7V234.2 M452.05,229.7V234.2 M455.02,229.7V234.2 M457.60,229.7V234.2 M459.87,229.7V234.2 M461.90,229.7V236.7 M475.27,229.7V234.2 M483.08,229.7V234.2 M488.63,229.7V234.2 M492.93,229.7V234.2 M496.45,229.7V234.2 M499.42,229.7V234.2 M502.00,229.7V234.2 M504.27,229.7V234.2 M506.30,229.7V236.7" stroke="#111" stroke-width="1.8" fill="none"/>
<text x="332.30" y="253.50" text-anchor="end" font-size="15.5" textLength="15" lengthAdjust="spacingAndGlyphs">10</text>
<text x="332.50" y="245.10" font-size="14.5">0</text>
<text x="376.70" y="253.50" text-anchor="end" font-size="15.5" textLength="15" lengthAdjust="spacingAndGlyphs">10</text>
<text x="376.90" y="245.10" font-size="14.5">1</text>
<text x="421.10" y="253.50" text-anchor="end" font-size="15.5" textLength="15" lengthAdjust="spacingAndGlyphs">10</text>
<text x="421.30" y="245.10" font-size="14.5">2</text>
<text x="465.50" y="253.50" text-anchor="end" font-size="15.5" textLength="15" lengthAdjust="spacingAndGlyphs">10</text>
<text x="465.70" y="245.10" font-size="14.5">3</text>
<text x="509.90" y="253.50" text-anchor="end" font-size="15.5" textLength="15" lengthAdjust="spacingAndGlyphs">10</text>
<text x="510.10" y="245.10" font-size="14.5">4</text>
<path d="M52.8,500.40H59.8 M55.3,485.97H59.8 M55.3,477.53H59.8 M55.3,471.55H59.8 M55.3,466.90H59.8 M55.3,463.11H59.8 M55.3,459.90H59.8 M55.3,457.12H59.8 M55.3,454.67H59.8 M52.8,452.47H59.8 M55.3,438.05H59.8 M55.3,429.61H59.8 M55.3,423.62H59.8 M55.3,418.98H59.8 M55.3,415.18H59.8 M55.3,411.97H59.8 M55.3,409.19H59.8 M55.3,406.74H59.8 M52.8,404.55H59.8 M55.3,390.12H59.8 M55.3,381.68H59.8 M55.3,375.70H59.8 M55.3,371.05H59.8 M55.3,367.26H59.8 M55.3,364.05H59.8 M55.3,361.27H59.8 M55.3,358.82H59.8 M52.8,356.62H59.8 M55.3,342.20H59.8 M55.3,333.76H59.8 M55.3,327.77H59.8 M55.3,323.13H59.8 M55.3,319.33H59.8 M55.3,316.12H59.8 M55.3,313.34H59.8 M55.3,310.89H59.8 M52.8,308.70H59.8" stroke="#111" stroke-width="1.8" fill="none"/>
<text transform="translate(47.70,511.40) rotate(-90)" font-size="15.5" textLength="13.5" lengthAdjust="spacingAndGlyphs">10</text>
<text transform="translate(39.30,495.90) rotate(-90)" font-size="15">0</text>
<text transform="translate(47.70,463.47) rotate(-90)" font-size="15.5" textLength="13.5" lengthAdjust="spacingAndGlyphs">10</text>
<text transform="translate(39.30,447.97) rotate(-90)" font-size="15">1</text>
<text transform="translate(47.70,415.55) rotate(-90)" font-size="15.5" textLength="13.5" lengthAdjust="spacingAndGlyphs">10</text>
<text transform="translate(39.30,400.05) rotate(-90)" font-size="15">2</text>
<text transform="translate(47.70,367.62) rotate(-90)" font-size="15.5" textLength="13.5" lengthAdjust="spacingAndGlyphs">10</text>
<text transform="translate(39.30,352.12) rotate(-90)" font-size="15">3</text>
<text transform="translate(47.70,319.70) rotate(-90)" font-size="15.5" textLength="13.5" lengthAdjust="spacingAndGlyphs">10</text>
<text transform="translate(39.30,304.20) rotate(-90)" font-size="15">4</text>
<path d="M59.60,501.6V508.6 M66.58,501.6V506.1 M73.55,501.6V506.1 M80.53,501.6V506.1 M87.50,501.6V506.1 M94.48,501.6V508.6 M101.46,501.6V506.1 M108.43,501.6V506.1 M115.41,501.6V506.1 M122.38,501.6V506.1 M129.36,501.6V508.6 M136.34,501.6V506.1 M143.31,501.6V506.1 M150.29,501.6V506.1 M157.26,501.6V506.1 M164.24,501.6V508.6 M171.22,501.6V506.1 M178.19,501.6V506.1 M185.17,501.6V506.1 M192.14,501.6V506.1 M199.12,501.6V508.6 M206.10,501.6V506.1 M213.07,501.6V506.1 M220.05,501.6V506.1 M227.02,501.6V506.1 M234.00,501.6V508.6" stroke="#111" stroke-width="1.8" fill="none"/>
<text x="59.90" y="521.80" text-anchor="middle" font-size="14.7" textLength="7.6" lengthAdjust="spacingAndGlyphs">0</text>
<text x="94.78" y="521.80" text-anchor="middle" font-size="14.7" textLength="22.8" lengthAdjust="spacingAndGlyphs">200</text>
<text x="129.66" y="521.80" text-anchor="middle" font-size="14.7" textLength="22.8" lengthAdjust="spacingAndGlyphs">400</text>
<text x="164.54" y="521.80" text-anchor="middle" font-size="14.7" textLength="22.8" lengthAdjust="spacingAndGlyphs">600</text>
<text x="199.42" y="521.80" text-anchor="middle" font-size="14.7" textLength="22.8" lengthAdjust="spacingAndGlyphs">800</text>
<text x="234.30" y="521.80" text-anchor="middle" font-size="14.7" textLength="30.4" lengthAdjust="spacingAndGlyphs">1000</text>
<path d="M320.3,501.50H327.3 M322.8,487.06H327.3 M322.8,478.61H327.3 M322.8,472.62H327.3 M322.8,467.97H327.3 M322.8,464.17H327.3 M322.8,460.96H327.3 M322.8,458.17H327.3 M322.8,455.72H327.3 M320.3,453.52H327.3 M322.8,439.08H327.3 M322.8,430.64H327.3 M322.8,424.64H327.3 M322.8,419.99H327.3 M322.8,416.19H327.3 M322.8,412.98H327.3 M322.8,410.20H327.3 M322.8,407.75H327.3 M320.3,405.55H327.3 M322.8,391.11H327.3 M322.8,382.66H327.3 M322.8,376.67H327.3 M322.8,372.02H327.3 M322.8,368.22H327.3 M322.8,365.01H327.3 M322.8,362.22H327.3 M322.8,359.77H327.3 M320.3,357.58H327.3 M322.8,343.13H327.3 M322.8,334.69H327.3 M322.8,328.69H327.3 M322.8,324.04H327.3 M322.8,320.24H327.3 M322.8,317.03H327.3 M322.8,314.25H327.3 M322.8,311.80H327.3 M320.3,309.60H327.3" stroke="#111" stroke-width="1.8" fill="none"/>
<text transform="translate(315.20,512.50) rotate(-90)" font-size="15.5" textLength="13.5" lengthAdjust="spacingAndGlyphs">10</text>
<text transform="translate(306.80,497.00) rotate(-90)" font-size="15">0</text>
<text transform="translate(315.20,464.52) rotate(-90)" font-size="15.5" textLength="13.5" lengthAdjust="spacingAndGlyphs">10</text>
<text transform="translate(306.80,449.02) rotate(-90)" font-size="15">1</text>
<text transform="translate(315.20,416.55) rotate(-90)" font-size="15.5" textLength="13.5" lengthAdjust="spacingAndGlyphs">10</text>
<text transform="translate(306.80,401.05) rotate(-90)" font-size="15">2</text>
<text transform="translate(315.20,368.58) rotate(-90)" font-size="15.5" textLength="13.5" lengthAdjust="spacingAndGlyphs">10</text>
<text transform="translate(306.80,353.08) rotate(-90)" font-size="15">3</text>
<text transform="translate(315.20,320.60) rotate(-90)" font-size="15.5" textLength="13.5" lengthAdjust="spacingAndGlyphs">10</text>
<text transform="translate(306.80,305.10) rotate(-90)" font-size="15">4</text>
<path d="M327.70,502.9V509.9 M334.66,502.9V507.4 M341.62,502.9V507.4 M348.58,502.9V507.4 M355.54,502.9V507.4 M362.50,502.9V509.9 M369.46,502.9V507.4 M376.42,502.9V507.4 M383.38,502.9V507.4 M390.34,502.9V507.4 M397.30,502.9V509.9 M404.26,502.9V507.4 M411.22,502.9V507.4 M418.18,502.9V507.4 M425.14,502.9V507.4 M432.10,502.9V509.9 M439.06,502.9V507.4 M446.02,502.9V507.4 M452.98,502.9V507.4 M459.94,502.9V507.4 M466.90,502.9V509.9 M473.86,502.9V507.4 M480.82,502.9V507.4 M487.78,502.9V507.4 M494.74,502.9V507.4 M501.70,502.9V509.9" stroke="#111" stroke-width="1.8" fill="none"/>
<text x="328.00" y="523.10" text-anchor="middle" font-size="14.7" textLength="7.6" lengthAdjust="spacingAndGlyphs">0</text>
<text x="362.80" y="523.10" text-anchor="middle" font-size="14.7" textLength="22.8" lengthAdjust="spacingAndGlyphs">200</text>
<text x="397.60" y="523.10" text-anchor="middle" font-size="14.7" textLength="22.8" lengthAdjust="spacingAndGlyphs">400</text>
<text x="432.40" y="523.10" text-anchor="middle" font-size="14.7" textLength="22.8" lengthAdjust="spacingAndGlyphs">600</text>
<text x="467.20" y="523.10" text-anchor="middle" font-size="14.7" textLength="22.8" lengthAdjust="spacingAndGlyphs">800</text>
<text x="502.00" y="523.10" text-anchor="middle" font-size="14.7" textLength="30.4" lengthAdjust="spacingAndGlyphs">1000</text>
<text x="146.2" y="15.8" font-size="19.3" text-anchor="middle" textLength="61.5" lengthAdjust="spacingAndGlyphs">Control</text>
<text x="412.8" y="17.9" font-size="19.3" text-anchor="middle" textLength="109.7" lengthAdjust="spacingAndGlyphs">BAY 36-1677</text>
<text x="146.2" y="270.2" font-size="18.8" text-anchor="middle" textLength="79" lengthAdjust="spacingAndGlyphs">Annexin V</text>
<text x="413" y="271.4" font-size="18.8" text-anchor="middle" textLength="80.8" lengthAdjust="spacingAndGlyphs">Annexin V</text>
<text x="147.7" y="541" font-size="18.3" text-anchor="middle" textLength="135.4" lengthAdjust="spacingAndGlyphs">DNA Content (PI)</text>
<text x="416.3" y="542.8" font-size="18.3" text-anchor="middle" textLength="134.6" lengthAdjust="spacingAndGlyphs">DNA Content (PI)</text>
<text transform="translate(17.3,131.75) rotate(-90)" font-size="19" text-anchor="middle" textLength="15.2" lengthAdjust="spacingAndGlyphs">PI</text>
<text transform="translate(284.9,133) rotate(-90)" font-size="19" text-anchor="middle" textLength="15" lengthAdjust="spacingAndGlyphs">PI</text>
<text transform="translate(16.9,403.25) rotate(-90)" font-size="18.5" text-anchor="middle" textLength="89.5" lengthAdjust="spacingAndGlyphs">dUTP FITC</text>
<text transform="translate(284.6,404.4) rotate(-90)" font-size="18.5" text-anchor="middle" textLength="90.5" lengthAdjust="spacingAndGlyphs">dUTP FITC</text>
<text x="238.3" y="151.9" font-size="16" text-anchor="end" textLength="23.3" lengthAdjust="spacingAndGlyphs">4%</text>
<text x="238.8" y="225.4" font-size="16" text-anchor="end" textLength="22.3" lengthAdjust="spacingAndGlyphs">2%</text>
<text x="506.5" y="151.7" font-size="16" text-anchor="end" textLength="30.9" lengthAdjust="spacingAndGlyphs">13%</text>
<text x="506.3" y="226.3" font-size="16" text-anchor="end" textLength="30.7" lengthAdjust="spacingAndGlyphs">29%</text>
<text x="237.6" y="426.0" font-size="16" text-anchor="end" textLength="22.5" lengthAdjust="spacingAndGlyphs">3%</text>
<text x="504.0" y="427.1" font-size="16" text-anchor="end" textLength="30.5" lengthAdjust="spacingAndGlyphs">27%</text>
</g></svg>
</body></html>
